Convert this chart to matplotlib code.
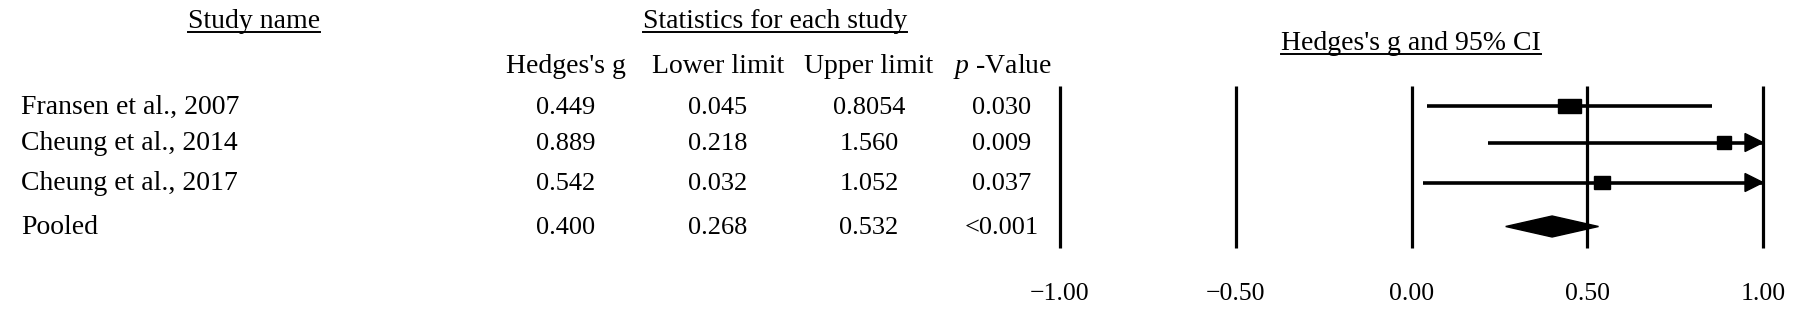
import matplotlib
matplotlib.use("Agg")
import matplotlib.pyplot as plt
from matplotlib.patches import Rectangle, Polygon
from matplotlib.lines import Line2D

plt.rcParams['font.family'] = ['Liberation Serif', 'DejaVu Serif']
plt.rcParams['mathtext.fontset'] = 'custom'
plt.rcParams['mathtext.rm'] = 'Liberation Serif'
plt.rcParams['mathtext.it'] = 'Liberation Serif:italic'

# data
studies = ["Fransen et al., 2007", "Cheung et al., 2014", "Cheung et al., 2017", "Pooled"]
hedges_g = [0.449, 0.889, 0.542, 0.400]
lower = [0.045, 0.218, 0.032, 0.268]
upper = [0.854, 1.560, 1.052, 0.532]
g_txt = ["0.449", "0.889", "0.542", "0.400"]
lower_txt = ["0.045", "0.218", "0.032", "0.268"]
upper_txt = ["0.8054", "1.560", "1.052", "0.532"]
p_txt = ["0.030", "0.009", "0.037", "<0.001"]
col_heads = ["Hedges's g", "Lower limit", "Upper limit", r"$p$ -Value"]
ticks = [-1.0, -0.5, 0.0, 0.5, 1.0]
tick_labels = ["\u22121.00", "\u22120.50", "0.00", "0.50", "1.00"]

# layout (pixels, top origin)
W, H = 1813, 313
row_y = [105.5, 142.5, 182.5, 226.5]
base_off = 8          # baseline sits this far below the row centre
col_x = [566, 718, 869, 1002]
box_w = [23, 14, 16]   # square widths in px (study weights)
box_h = [14, 13, 13]
fs_word = 20
fs_num = 19
fs_tick = 18.5
x_lo, x_hi = 1060, 1763   # pixel span of -1 .. 1

fig = plt.figure(figsize=(W / 100, H / 100), dpi=100)
tab = fig.add_axes([0, 0, 1, 1])
tab.set_xlim(0, W)
tab.set_ylim(H, 0)
tab.axis('off')

ax = fig.add_axes([x_lo / W, 0, (x_hi - x_lo) / W, 1])
ax.set_xlim(ticks[0], ticks[-1])
ax.set_ylim(H, 0)
ax.axis('off')
px = (ticks[-1] - ticks[0]) / (x_hi - x_lo)   # data units per pixel

heads = []
heads.append(tab.text(254, 28, "Study name", ha='center', va='baseline', fontsize=fs_word))
heads.append(tab.text(775, 28, "Statistics for each study", ha='center', va='baseline', fontsize=fs_word))
heads.append(tab.text(1411, 50, "Hedges's g and 95% CI", ha='center', va='baseline', fontsize=fs_word))

for cx, h in zip(col_x, col_heads):
    tab.text(cx, 73, h, ha='center', va='baseline', fontsize=fs_word)

for i, name in enumerate(studies):
    yb = row_y[i] + base_off
    tab.text(21, yb, name, ha='left', va='baseline', fontsize=fs_word)
    for cx, col in zip(col_x, [g_txt, lower_txt, upper_txt, p_txt]):
        tab.text(cx, yb, col[i], ha='center', va='baseline', fontsize=fs_num)

# grid lines and axis labels
ax.vlines(ticks, 86, 248, color='black', lw=2.3, clip_on=False)
for t, lab in zip(ticks, tick_labels):
    ax.text(t, 300, lab, ha='center', va='baseline', fontsize=fs_tick)

# individual studies
for i in range(3):
    y = row_y[i]
    hi = min(upper[i], ticks[-1])
    ax.plot([lower[i], hi], [y, y], color='black', lw=2.6, solid_capstyle='butt', clip_on=False)
    if upper[i] > ticks[-1]:
        al = 18 * px
        ax.add_patch(Polygon([(hi - al, y - 9), (hi, y), (hi - al, y + 9)],
                             closed=True, color='black', clip_on=False))
    w = box_w[i] * px
    ax.add_patch(Rectangle((hedges_g[i] - w / 2, y - box_h[i] / 2), w, box_h[i],
                           color='black', clip_on=False))

# pooled diamond
y = row_y[3]
ax.add_patch(Polygon([(lower[3], y), (hedges_g[3], y - 10.5), (upper[3], y), (hedges_g[3], y + 10.5)],
                     closed=True, color='black', clip_on=False))

# underline the headers, a few px below the baseline
fig.canvas.draw()
r = fig.canvas.get_renderer()
for t in heads:
    bb = t.get_window_extent(r)
    yb = H - (t.get_position()[1] + 4)
    fig.add_artist(Line2D([bb.x0 / W, bb.x1 / W], [yb / H, yb / H], color='black', lw=1.4))

fig.savefig("out.png", dpi=100)
